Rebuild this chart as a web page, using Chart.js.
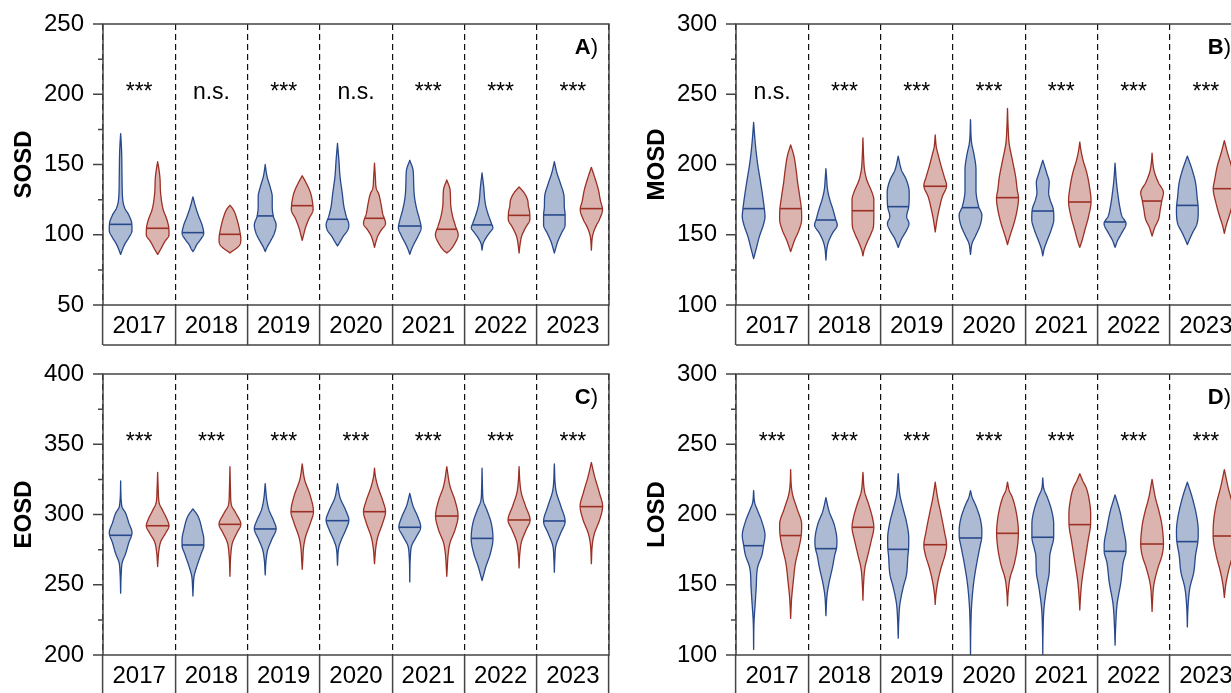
<!DOCTYPE html>
<html>
<head>
<meta charset="utf-8">
<script src="https://cdn.jsdelivr.net/npm/chart.js@4.4.1/dist/chart.umd.min.js"></script>
<style>
  html, body { margin: 0; padding: 0; background: #fff; overflow: hidden; }
  body { width: 1231px; height: 693px; position: relative; }
  canvas { position: absolute; }
</style>
</head>
<body>
<canvas id="chartA" width="640" height="350" style="left:0;top:0"></canvas>
<canvas id="chartB" width="640" height="350" style="left:633px;top:0"></canvas>
<canvas id="chartC" width="640" height="350" style="left:0;top:350px"></canvas>
<canvas id="chartD" width="640" height="350" style="left:633px;top:350px"></canvas>
<script>
const YEARS = ["2017", "2018", "2019", "2020", "2021", "2022", "2023"];

// significance labels per year
const SOSD_SIG = ["***", "n.s.", "***", "n.s.", "***", "***", "***"];
const MOSD_SIG = ["n.s.", "***", "***", "***", "***", "***", "***"];
const EOSD_SIG = ["***", "***", "***", "***", "***", "***", "***"];
const LOSD_SIG = ["***", "***", "***", "***", "***", "***", "***"];

// medians
const SOSD_BLUE_MED = [107.4, 101.5, 113.4, 111.0, 106.2, 107.0, 114.1];
const SOSD_RED_MED = [104.6, 100.3, 120.7, 111.7, 103.9, 113.8, 118.6];
const MOSD_BLUE_MED = [168.6, 160.5, 170.0, 169.3, 166.9, 159.1, 170.9];
const MOSD_RED_MED = [168.6, 167.1, 184.5, 176.4, 173.3, 174.0, 182.8];
const EOSD_BLUE_MED = [285.2, 278.3, 289.7, 295.6, 290.9, 283.0, 295.4];
const EOSD_RED_MED = [292.0, 293.0, 302.0, 302.0, 298.9, 296.1, 305.6];
const LOSD_BLUE_MED = [177.8, 175.7, 175.2, 183.3, 183.8, 173.8, 180.7];
const LOSD_RED_MED = [185.0, 190.9, 178.5, 186.6, 192.8, 179.0, 184.7];

// violin outlines: [value, relative density] from top to bottom
const SOSD_BLUE_SHAPE = [
  [[172,0],[160,0.08],[140,0.12],[125,0.18],[119,0.35],[114,0.7],[108,0.95],[103,0.97],[98,0.7],[94,0.4],[90,0.18],[86,0]],
  [[127,0],[120,0.22],[113,0.5],[107,0.78],[101,0.92],[96,0.6],[93,0.33],[90,0.15],[88,0]],
  [[150,0],[145,0.08],[141,0.17],[134,0.42],[127,0.6],[120,0.6],[113,0.7],[107,0.93],[101,0.78],[95,0.42],[91,0.15],[88,0]],
  [[165,0],[153,0.12],[141,0.22],[130,0.4],[120,0.55],[113,0.75],[107,0.97],[103,0.85],[99,0.5],[95,0.22],[92,0]],
  [[153,0],[146,0.28],[137,0.33],[127,0.4],[118,0.6],[111,0.83],[105,0.97],[99,0.7],[93,0.33],[89,0.12],[86,0]],
  [[144,0],[134,0.14],[122,0.28],[115,0.5],[108,0.8],[105,0.92],[101,0.6],[97,0.28],[94,0.1],[89,0]],
  [[152,0],[144,0.22],[137,0.5],[127,0.83],[120,0.85],[114,0.92],[107,0.92],[101,0.6],[95,0.28],[90,0.1],[87,0]]
];
const SOSD_RED_SHAPE = [
  [[152,0],[146,0.12],[140,0.2],[130,0.25],[118,0.47],[111,0.78],[105,0.95],[100,0.97],[95,0.6],[90,0.28],[86,0]],
  [[121,0],[118,0.28],[111,0.6],[103,0.83],[97,0.93],[93,0.85],[90,0.5],[88,0.15],[87,0]],
  [[142,0],[137,0.33],[130,0.7],[123,0.88],[118,0.93],[111,0.55],[105,0.28],[100,0.12],[96,0]],
  [[151,0],[140,0.08],[133,0.15],[129,0.36],[122,0.55],[115,0.7],[108,0.94],[103,0.55],[99,0.28],[95,0.12],[91,0]],
  [[139,0],[132,0.28],[122,0.33],[113,0.5],[106,0.75],[100,0.97],[94,0.7],[89,0.28],[87,0]],
  [[134,0],[130,0.42],[125,0.72],[120,0.8],[116,0.9],[111,0.92],[105,0.55],[99,0.22],[94,0.1],[87,0]],
  [[148,0],[141,0.28],[132,0.6],[124,0.78],[118,0.95],[111,0.7],[105,0.33],[99,0.1],[89,0]]
];
const MOSD_BLUE_SHAPE = [
  [[230,0],[215,0.14],[201,0.33],[187,0.6],[177,0.78],[168,0.92],[163,0.97],[157,0.83],[149,0.5],[140,0.22],[133,0]],
  [[197,0],[190,0.06],[182,0.14],[175,0.33],[168,0.6],[161,0.83],[157,0.97],[151,0.55],[145,0.22],[140,0.08],[132,0]],
  [[206,0],[196,0.28],[189,0.7],[180,0.94],[170,0.9],[163,0.72],[158,0.92],[153,0.7],[147,0.28],[141,0]],
  [[232,0],[215,0.1],[208,0.28],[196,0.47],[182,0.47],[170,0.7],[164,0.97],[157,0.83],[149,0.42],[144,0.14],[136,0]],
  [[203,0],[194,0.33],[187,0.55],[180,0.5],[175,0.62],[168,0.9],[161,0.94],[153,0.7],[145,0.33],[140,0.12],[135,0]],
  [[201,0],[189,0.1],[180,0.22],[170,0.4],[163,0.6],[158,0.94],[151,0.55],[146,0.22],[141,0]],
  [[206,0],[196,0.42],[187,0.7],[177,0.83],[168,0.93],[158,0.83],[151,0.42],[146,0.15],[143,0]]
];
const MOSD_RED_SHAPE = [
  [[214,0],[206,0.28],[196,0.47],[187,0.6],[177,0.78],[168,0.92],[161,0.94],[153,0.7],[146,0.33],[141,0.12],[138,0]],
  [[219,0],[205,0.06],[196,0.14],[189,0.33],[180,0.78],[175,0.93],[165,0.93],[156,0.9],[151,0.7],[144,0.33],[139,0.1],[135,0]],
  [[221,0],[212,0.1],[208,0.22],[199,0.5],[191,0.78],[185,0.97],[177,0.6],[168,0.33],[160,0.14],[152,0]],
  [[240,0],[225,0.06],[215,0.14],[203,0.42],[191,0.7],[182,0.83],[176,0.94],[168,0.83],[158,0.55],[151,0.28],[146,0.1],[143,0]],
  [[216,0],[210,0.1],[203,0.28],[194,0.6],[184,0.83],[174,0.96],[163,0.75],[153,0.42],[146,0.2],[141,0]],
  [[208,0],[200,0.08],[194,0.22],[187,0.55],[180,0.97],[175,0.85],[168,0.7],[161,0.55],[155,0.22],[149,0]],
  [[217,0],[208,0.28],[199,0.6],[189,0.83],[183,0.95],[172,0.7],[163,0.4],[157,0.17],[151,0]]
];
const EOSD_BLUE_SHAPE = [
  [[324,0],[306,0.1],[301,0.42],[294,0.7],[287,0.97],[280,0.7],[272,0.42],[266,0.14],[258,0.05],[244,0]],
  [[304,0],[299,0.42],[289,0.78],[282,0.93],[278,0.93],[272,0.7],[263,0.33],[256,0.1],[248,0.03],[242,0]],
  [[322,0],[310,0.14],[303,0.33],[296,0.7],[290,0.93],[282,0.55],[275,0.22],[268,0.08],[257,0]],
  [[322,0],[312,0.22],[303,0.7],[296,0.97],[289,0.7],[282,0.33],[277,0.12],[264,0]],
  [[315,0],[306,0.28],[298,0.7],[291,0.93],[284,0.55],[278,0.17],[270,0.05],[252,0]],
  [[333,0],[318,0.04],[310,0.1],[303,0.42],[294,0.78],[283,0.93],[272,0.7],[263,0.33],[256,0.1],[253,0]],
  [[336,0],[317,0.14],[306,0.55],[295,0.92],[287,0.55],[278,0.14],[268,0.04],[259,0]]
];
const EOSD_RED_SHAPE = [
  [[330,0],[318,0.05],[308,0.14],[303,0.42],[296,0.83],[292,0.97],[287,0.7],[281,0.28],[274,0.1],[263,0]],
  [[334,0],[316,0.05],[307,0.12],[301,0.5],[293,0.93],[287,0.6],[280,0.22],[272,0.08],[256,0]],
  [[336,0],[325,0.2],[313,0.7],[302,0.96],[294,0.7],[284,0.28],[277,0.12],[268,0.05],[261,0]],
  [[333,0],[327,0.08],[320,0.28],[310,0.7],[302,0.94],[294,0.7],[284,0.28],[277,0.12],[265,0]],
  [[334,0],[320,0.28],[310,0.7],[299,0.96],[289,0.7],[280,0.28],[272,0.12],[262,0.04],[256,0]],
  [[334,0],[322,0.08],[315,0.2],[306,0.55],[296,0.94],[289,0.6],[281,0.22],[272,0.06],[262,0]],
  [[337,0],[327,0.28],[315,0.7],[306,0.96],[296,0.7],[287,0.28],[280,0.1],[265,0]]
];
const LOSD_BLUE_SHAPE = [
  [[217,0],[208,0.1],[204,0.28],[195,0.7],[185,0.97],[178,0.85],[171,0.7],[162,0.33],[148,0.22],[135,0.12],[125,0.04],[104,0]],
  [[212,0],[202,0.28],[193,0.7],[181,0.94],[176,0.9],[171,0.75],[162,0.55],[152,0.28],[143,0.1],[128,0]],
  [[229,0],[214,0.14],[204,0.42],[195,0.7],[183,0.9],[175,0.88],[171,0.83],[157,0.7],[148,0.42],[136,0.14],[125,0.05],[112,0]],
  [[217,0],[212,0.15],[207,0.42],[197,0.83],[188,0.97],[183,0.95],[178,0.83],[166,0.55],[152,0.28],[136,0.1],[120,0.03],[100,0]],
  [[226,0],[218,0.1],[212,0.4],[202,0.78],[193,0.93],[184,0.93],[175,0.7],[171,0.6],[159,0.55],[148,0.33],[133,0.1],[115,0.02],[100,0]],
  [[214,0],[202,0.42],[190,0.7],[178,0.93],[174,0.93],[166,0.7],[152,0.5],[136,0.17],[120,0.05],[107,0]],
  [[223,0],[212,0.42],[197,0.83],[188,0.93],[181,0.9],[171,0.7],[159,0.55],[148,0.22],[135,0.06],[120,0]]
];
const LOSD_RED_SHAPE = [
  [[232,0],[220,0.06],[214,0.17],[204,0.55],[193,0.94],[185,0.9],[176,0.7],[166,0.42],[152,0.22],[140,0.08],[126,0]],
  [[230,0],[216,0.15],[207,0.5],[197,0.83],[191,0.93],[181,0.7],[171,0.42],[162,0.17],[150,0.05],[139,0]],
  [[223,0],[212,0.2],[200,0.5],[188,0.78],[178,0.97],[171,0.83],[162,0.5],[152,0.22],[143,0.06],[136,0]],
  [[223,0],[217,0.15],[212,0.42],[200,0.78],[187,0.93],[176,0.83],[164,0.55],[155,0.22],[145,0.06],[135,0]],
  [[229,0],[224,0.25],[219,0.55],[209,0.83],[200,0.93],[193,0.92],[181,0.7],[166,0.42],[152,0.17],[140,0.05],[132,0]],
  [[225,0],[212,0.28],[202,0.6],[193,0.83],[179,0.97],[171,0.85],[162,0.5],[150,0.15],[140,0.05],[131,0]],
  [[232,0],[219,0.33],[207,0.7],[195,0.92],[185,0.96],[171,0.7],[159,0.33],[150,0.12],[141,0]]
];

const FONT = "'Liberation Sans', Arial, sans-serif";
const BLUE_LINE = "#27498c";
const BLUE_FILL = "rgba(39, 73, 140, 0.38)";
const RED_LINE = "#9c3024";
const RED_FILL = "rgba(156, 48, 36, 0.36)";
const FRAME = "#444";
const SIDE_OFFSET = 0.256; // violin centre shift, share of category width
const HALF_WIDTH = 0.162;  // half width at density 1, share of category width

// monotone cubic (Fritsch-Carlson) through the outline points
function monotone(xs, ys) {
  const n = xs.length;
  const d = [], m = [];
  for (let i = 0; i < n - 1; i++) d[i] = (ys[i + 1] - ys[i]) / (xs[i + 1] - xs[i]);
  m[0] = d[0];
  m[n - 1] = d[n - 2];
  for (let i = 1; i < n - 1; i++) m[i] = d[i - 1] * d[i] <= 0 ? 0 : (d[i - 1] + d[i]) / 2;
  for (let i = 0; i < n - 1; i++) {
    if (d[i] === 0) { m[i] = 0; m[i + 1] = 0; continue; }
    const a = m[i] / d[i], b = m[i + 1] / d[i], s = a * a + b * b;
    if (s > 9) { const t = 3 / Math.sqrt(s); m[i] = t * a * d[i]; m[i + 1] = t * b * d[i]; }
  }
  return (x) => {
    let i = 0;
    while (i < n - 2 && x > xs[i + 1]) i++;
    const h = xs[i + 1] - xs[i], t = (x - xs[i]) / h, t2 = t * t, t3 = t2 * t;
    return (2 * t3 - 3 * t2 + 1) * ys[i] + (t3 - 2 * t2 + t) * h * m[i] +
      (-2 * t3 + 3 * t2) * ys[i + 1] + (t3 - t2) * h * m[i + 1];
  };
}

const panelPlugin = {
  id: "panel",
  afterDatasetsDraw(chart) {
    const { ctx, chartArea: a, scales: { x, y } } = chart;
    const step = x.getPixelForValue(1) - x.getPixelForValue(0);
    const half = HALF_WIDTH * step;
    ctx.save();
    ctx.beginPath();
    ctx.rect(a.left, a.top, a.width, a.height);
    ctx.clip();
    chart.data.datasets.forEach((ds) => {
      ds.shapes.forEach((profile, i) => {
        const cx = x.getPixelForValue(i) + ds.side * SIDE_OFFSET * step;
        const rev = profile.slice().reverse();
        const f = monotone(rev.map((p) => p[0]), rev.map((p) => p[1]));
        const top = profile[0][0], bot = profile[profile.length - 1][0];
        const N = 160;
        const side = [];
        for (let k = 0; k <= N; k++) {
          const v = top + (bot - top) * k / N;
          side.push([Math.max(0, f(v)) * half, y.getPixelForValue(v)]);
        }
        ctx.beginPath();
        side.forEach(([w, py], k) => (k ? ctx.lineTo(cx - w, py) : ctx.moveTo(cx - w, py)));
        for (let k = side.length - 1; k >= 0; k--) ctx.lineTo(cx + side[k][0], side[k][1]);
        ctx.closePath();
        ctx.fillStyle = ds.fillColor;
        ctx.fill();
        ctx.lineJoin = "round";
        ctx.lineWidth = 1.3;
        ctx.strokeStyle = ds.lineColor;
        ctx.stroke();

        const med = ds.data[i];
        const mw = Math.max(0, f(med)) * half;
        const my = y.getPixelForValue(med);
        ctx.beginPath();
        ctx.moveTo(cx - mw, my);
        ctx.lineTo(cx + mw, my);
        ctx.lineWidth = 1.6;
        ctx.stroke();
      });
    });
    ctx.restore();
  },
  afterDraw(chart, args, opts) {
    const { ctx, chartArea: a, scales: { x, y } } = chart;
    ctx.save();
    ctx.strokeStyle = FRAME;
    ctx.lineWidth = 1.5;
    ctx.strokeRect(a.left, a.top, a.width, a.height);
    ctx.beginPath();
    ctx.moveTo(a.left, a.bottom + 40);
    ctx.lineTo(a.right, a.bottom + 40);
    y.ticks.forEach((t) => {
      const py = y.getPixelForValue(t.value);
      const len = t.value % 50 === 0 ? 10 : 5;
      ctx.moveTo(a.left - len, py);
      ctx.lineTo(a.left, py);
    });
    ctx.stroke();

    ctx.fillStyle = "#000";
    ctx.textBaseline = "alphabetic";
    ctx.textAlign = "center";
    ctx.font = "23px " + FONT;
    opts.sig.forEach((s, i) => ctx.fillText(s, x.getPixelForValue(i), a.top + 75));

    ctx.textAlign = "right";
    ctx.font = "22px " + FONT;
    ctx.fillText(")", a.right - 11, a.top + 30);
    const pw = ctx.measureText(")").width;
    ctx.font = "bold 22px " + FONT;
    ctx.fillText(opts.letter, a.right - 11 - pw, a.top + 30);
    ctx.restore();
  }
};

function makePanel(id, title, letter, min, max, sig, blueMed, redMed, blueShape, redShape) {
  new Chart(document.getElementById(id), {
    type: "line",
    data: {
      labels: YEARS,
      datasets: [
        { label: "blue", data: blueMed, shapes: blueShape, side: -1, lineColor: BLUE_LINE, fillColor: BLUE_FILL, showLine: false, pointRadius: 0 },
        { label: "red", data: redMed, shapes: redShape, side: 1, lineColor: RED_LINE, fillColor: RED_FILL, showLine: false, pointRadius: 0 }
      ]
    },
    plugins: [panelPlugin],
    options: {
      responsive: false,
      animation: false,
      devicePixelRatio: 1,
      events: [],
      layout: { autoPadding: false, padding: { top: 24, right: 31, bottom: 5, left: 0 } },
      plugins: {
        legend: { display: false },
        tooltip: { enabled: false },
        panel: { sig, letter }
      },
      scales: {
        x: {
          type: "category",
          offset: true,
          afterFit(s) { s.height = 40; },
          grid: { offset: true, color: "#111", lineWidth: 1.2, drawTicks: true, tickLength: 40, tickColor: FRAME, tickWidth: 1.5 },
          border: { display: false, dash: [6, 4] },
          ticks: { padding: -33, color: "#000", autoSkip: false, maxRotation: 0, font: { family: FONT, size: 24 } }
        },
        y: {
          min,
          max,
          afterFit(s) { s.width = 103; },
          // tick marks are drawn by the panel plugin; tickLength only spaces the labels
          grid: { display: false, drawTicks: true, tickLength: 19 },
          border: { display: false },
          ticks: {
            stepSize: 25,
            padding: 0,
            autoSkip: false,
            color: "#000",
            font: { family: FONT, size: 24 },
            callback(value) {
              return value % 50 === 0 ? String(value) : "";
            }
          },
          title: { display: true, text: title, color: "#000", padding: { top: 10, bottom: 0 }, font: { family: FONT, size: 24, weight: "bold" } }
        }
      }
    }
  });
}

makePanel("chartA", "SOSD", "A", 50, 250, SOSD_SIG, SOSD_BLUE_MED, SOSD_RED_MED, SOSD_BLUE_SHAPE, SOSD_RED_SHAPE);
makePanel("chartB", "MOSD", "B", 100, 300, MOSD_SIG, MOSD_BLUE_MED, MOSD_RED_MED, MOSD_BLUE_SHAPE, MOSD_RED_SHAPE);
makePanel("chartC", "EOSD", "C", 200, 400, EOSD_SIG, EOSD_BLUE_MED, EOSD_RED_MED, EOSD_BLUE_SHAPE, EOSD_RED_SHAPE);
makePanel("chartD", "LOSD", "D", 100, 300, LOSD_SIG, LOSD_BLUE_MED, LOSD_RED_MED, LOSD_BLUE_SHAPE, LOSD_RED_SHAPE);
</script>
</body>
</html>
